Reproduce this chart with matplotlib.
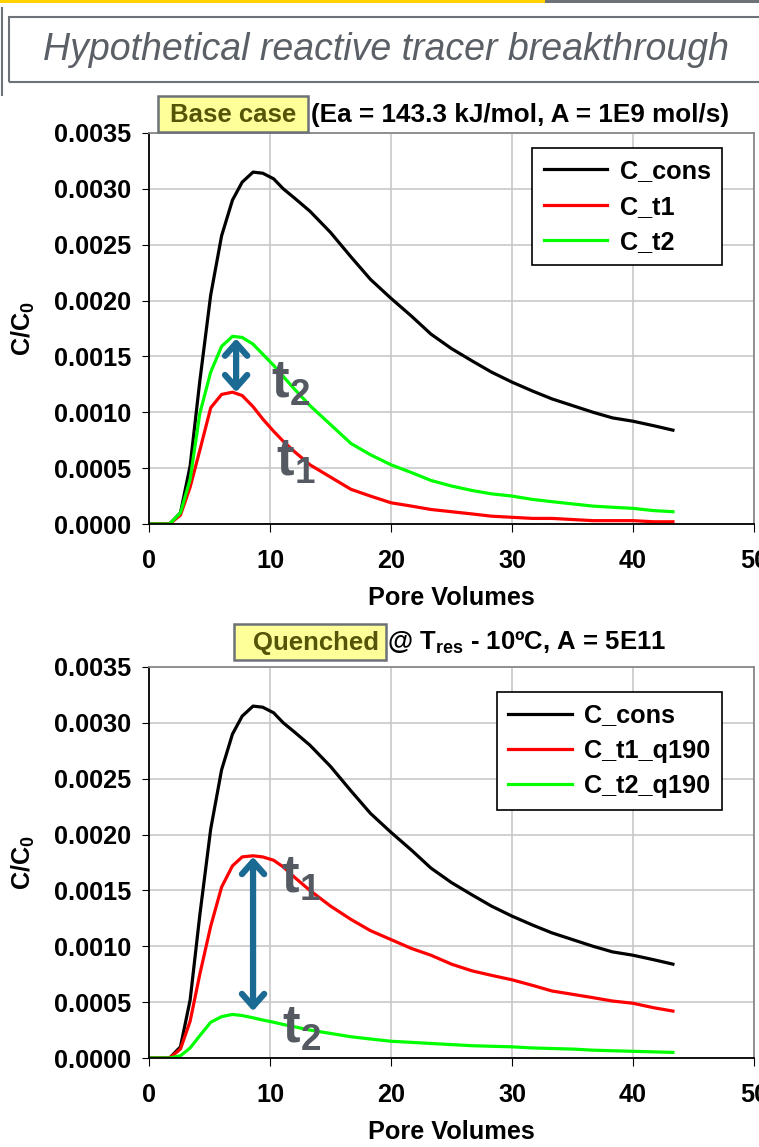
import numpy as np
import matplotlib
matplotlib.use("Agg")
import matplotlib.pyplot as plt
from matplotlib.patches import Rectangle

plt.rcParams['font.family'] = ['Liberation Sans', 'DejaVu Sans']
plt.rcParams['mathtext.fontset'] = 'custom'
plt.rcParams['mathtext.rm'] = 'Liberation Sans:bold'
plt.rcParams['mathtext.bf'] = 'Liberation Sans:bold'

# data
pv = [0, 1.7, 2.6, 3.4, 4.2, 5.1, 6.0, 6.9, 7.7, 8.6, 9.4, 10.3, 11.1, 12.0, 13.3,
      15.0, 16.7, 18.3, 20.0, 21.7, 23.3, 25.0, 26.7, 28.3, 30.0, 31.7, 33.3, 35.0,
      36.7, 38.3, 40.0, 41.7, 43.3]

c_cons = [0, 0, 0.0001, 0.00052, 0.00128, 0.00205, 0.00258, 0.00290, 0.00306, 0.00315,
          0.00314, 0.00309, 0.00300, 0.00292, 0.00280, 0.00261, 0.00239, 0.00219, 0.00202,
          0.00186, 0.00170, 0.00157, 0.00146, 0.00136, 0.00127, 0.00119, 0.00112, 0.00106,
          0.00100, 0.00095, 0.00092, 0.00088, 0.00084]

c_t1 = [0, 0, 0.00008, 0.00033, 0.00066, 0.00104, 0.00116, 0.00118, 0.00115, 0.00105,
        0.00094, 0.00083, 0.00074, 0.00065, 0.00053, 0.00042, 0.00031, 0.00025, 0.00019,
        0.00016, 0.00013, 0.00011, 0.00009, 0.00007, 0.00006, 0.00005, 0.00005, 0.00004,
        0.00003, 0.00003, 0.00003, 0.00002, 0.00002]

c_t2 = [0, 0, 0.0001, 0.0004, 0.00099, 0.00136, 0.00159, 0.00168, 0.00167, 0.00161,
        0.00152, 0.00142, 0.00132, 0.00121, 0.00106, 0.00089, 0.00072, 0.00062, 0.00053,
        0.00046, 0.00039, 0.00034, 0.00030, 0.00027, 0.00025, 0.00022, 0.00020, 0.00018,
        0.00016, 0.00015, 0.00014, 0.00012, 0.00011]

c_t1_q190 = [0, 0, 0.00008, 0.00033, 0.00075, 0.00118, 0.00153, 0.00172, 0.00180, 0.00181,
             0.00180, 0.00177, 0.00171, 0.00162, 0.00150, 0.00136, 0.00124, 0.00114, 0.00106,
             0.00098, 0.00092, 0.00084, 0.00078, 0.00074, 0.00070, 0.00065, 0.00060, 0.00057,
             0.00054, 0.00051, 0.00049, 0.00045, 0.00042]

c_t2_q190 = [0, 0, 0.00002, 0.00009, 0.0002, 0.00032, 0.00037, 0.00039, 0.00038, 0.00036,
             0.00034, 0.00032, 0.0003, 0.00028, 0.00025, 0.00022, 0.00019, 0.00017, 0.00015,
             0.00014, 0.00013, 0.00012, 0.00011, 0.000105, 0.0001, 0.00009, 0.000085, 0.00008,
             0.00007, 0.000065, 0.00006, 0.000055, 0.00005]

W, H = 759, 1147
fig = plt.figure(figsize=(W / 100, H / 100), dpi=100)


def fx(x):
    return x / W


def fy(y):
    return 1 - y / H


def box(x0, y0, x1, y1, **kw):
    fig.add_artist(Rectangle((fx(x0), fy(y1)), (x1 - x0) / W, (y1 - y0) / H,
                             transform=fig.transFigure, **kw))


# header decoration
box(0, 0, 545, 3, facecolor='#ffd200', edgecolor='none')
box(545, 0, 759, 3, facecolor='#6d7178', edgecolor='none')
fig.add_artist(plt.Line2D([fx(2), fx(2)], [fy(8), fy(95)], transform=fig.transFigure,
                          color='#6d7178', lw=1.5))
box(9, 17, 780, 82, facecolor='none', edgecolor='#6d7178', lw=1.5)
fig.text(fx(386), fy(50), 'Hypothetical reactive tracer breakthrough', fontsize=27,
         style='italic', color='#5b6066', ha='center', va='center')

tcol = '#555a62'
acol = '#1b6a93'
fs = 18.2


def setup(ax, lines, labels, legy):
    ax.set_xlim(0, 50)
    ax.set_ylim(0, 0.0035)
    ax.set_xticks(np.arange(0, 51, 10))
    ax.set_yticks(np.arange(0, 0.00351, 0.0005))
    ax.set_yticklabels(['%.4f' % v for v in np.arange(0, 0.00351, 0.0005)])
    ax.grid(True, color='#c8c8c8', lw=1.2)
    ax.set_axisbelow(True)
    for s in ['left', 'bottom']:
        ax.spines[s].set_color('black')
        ax.spines[s].set_linewidth(1.3)
    for s in ['top', 'right']:
        ax.spines[s].set_color('#888888')
        ax.spines[s].set_linewidth(1.3)
    ax.tick_params(axis='y', direction='out', length=5, pad=8, labelsize=fs)
    ax.tick_params(axis='x', direction='out', length=6, pad=12, labelsize=fs)
    for t in ax.get_xticklabels() + ax.get_yticklabels():
        t.set_fontweight('bold')
    ax.set_xlabel('Pore Volumes', fontsize=fs, fontweight='bold')
    ax.xaxis.set_label_coords(0.5, -0.158)
    ax.set_ylabel(r'C/C$_\mathbf{0}$', fontsize=fs, fontweight='bold')
    ax.yaxis.set_label_coords(-0.185, 0.5)
    leg = ax.legend(lines, labels, loc='upper right', bbox_to_anchor=(0.947, legy),
                    borderaxespad=0, fancybox=False, framealpha=1, edgecolor='black',
                    handlelength=2.5, handletextpad=0.5, labelspacing=0.45,
                    borderpad=0.45, prop={'weight': 'bold', 'size': fs})
    leg.get_frame().set_linewidth(1.2)


lw = 2.3
arrow = dict(arrowstyle='<->,head_length=0.45,head_width=0.4', color=acol, lw=4.5,
             mutation_scale=20, shrinkA=0, shrinkB=0)

# top panel
ax1 = fig.add_axes([fx(149), fy(524), 605 / W, 391 / H])
l1, = ax1.plot(pv, c_cons, color='black', lw=lw)
l2, = ax1.plot(pv, c_t1, color='#ff0000', lw=lw)
l3, = ax1.plot(pv, c_t2, color='#00ff00', lw=lw)
setup(ax1, [l1, l2, l3], ['C_cons', 'C_t1', 'C_t2'], 0.962)
ax1.annotate('', xy=(7.2, 0.00118), xytext=(7.2, 0.00166), arrowprops=arrow)
ax1.text(10.1, 0.00113, r'$\mathbf{t_2}$', fontsize=38, color=tcol, va='baseline')
ax1.text(10.5, 0.00043, r'$\mathbf{t_1}$', fontsize=38, color=tcol, va='baseline')

box(158, 96, 308, 132, facecolor='#ffff99', edgecolor='#6d7178', lw=1.8)
fig.text(fx(233), fy(115), 'Base case', fontsize=18.5, fontweight='bold', color='#55550a',
         ha='center', va='center')
fig.text(fx(311), fy(115), '(Ea = 143.3 kJ/mol, A = 1E9 mol/s)', fontsize=18.8,
         fontweight='bold', color='black', ha='left', va='center')

# bottom panel
ax2 = fig.add_axes([fx(149), fy(1058), 605 / W, 391 / H])
m1, = ax2.plot(pv, c_cons, color='black', lw=lw)
m2, = ax2.plot(pv, c_t1_q190, color='#ff0000', lw=lw)
m3, = ax2.plot(pv, c_t2_q190, color='#00ff00', lw=lw)
setup(ax2, [m1, m2, m3], ['C_cons', 'C_t1_q190', 'C_t2_q190'], 0.936)
ax2.annotate('', xy=(8.6, 0.00042), xytext=(8.6, 0.00180), arrowprops=arrow)
ax2.text(10.9, 0.00148, r'$\mathbf{t_1}$', fontsize=38, color=tcol, va='baseline')
ax2.text(11.0, 0.000134, r'$\mathbf{t_2}$', fontsize=38, color=tcol, va='baseline')

box(234, 624, 386, 660, facecolor='#ffff99', edgecolor='#6d7178', lw=1.8)
fig.text(fx(316), fy(643), 'Quenched', fontsize=18.5, fontweight='bold', color='#55550a',
         ha='center', va='center')
fig.text(fx(387), fy(643), r'@ T$_\mathbf{res}$ - 10ºC, A = 5E11', fontsize=18.5,
         fontweight='bold', color='black', ha='left', va='center')

fig.savefig('out.png', dpi=100)
